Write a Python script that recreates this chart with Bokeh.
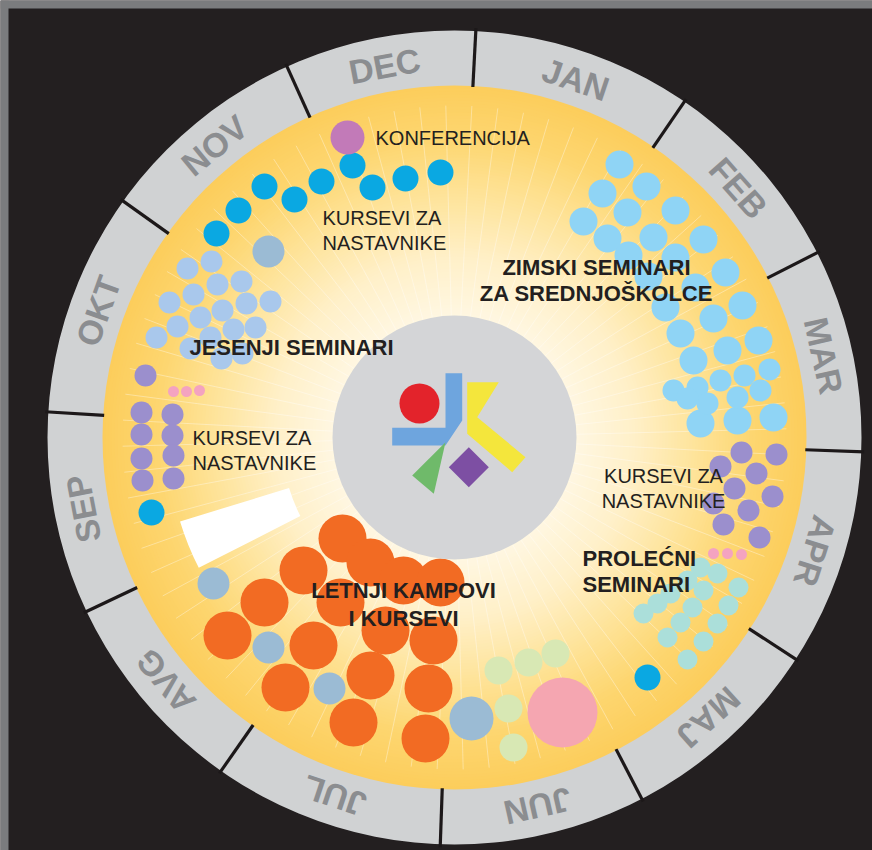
import numpy as np
from bokeh.plotting import figure
from bokeh.models import Range1d
from bokeh.embed import file_html
from bokeh.resources import INLINE
from bokeh.core.properties import value

# ---------------- data ----------------
months = ["JAN", "FEB", "MAR", "APR", "MAJ", "JUN", "JUL", "AVG", "SEP", "OKT", "NOV", "DEC"]
# start of each month on the wheel, degrees clockwise from 12 o'clock
month_start_deg = [3, 34.4, 63, 92, 123, 152.6, 182, 215, 244.7, 273.6, 305.5, 335.7]

# event dots: positions on the year-wheel (x, y relative to the wheel centre, y up)
konferencija_x = [-107]
konferencija_y = [300]

kursevi_blue_x = [-102, -82, -49, -14, -133, -160, -190, -216, -238, -303, 193]
kursevi_blue_y = [272, 250, 259, 265, 256, 238, 251, 227, 204, -75, -240]

grayblue_x = [-186, -241, -186, -125]
grayblue_y = [186, -146, -210, -251]
grayblue_big_x = [17]
grayblue_big_y = [-281]

jesenji_x = [-243, -267, -237, -213, -261, -285, -232, -208, -184, -254, -277, -221, -199, -298, -244, -264, -233, -212]
jesenji_y = [176, 169, 153, 156, 143, 135, 127, 134, 136, 120, 111, 108, 110, 100, 100, 89, 79, 84]

zimski_x = [165, 192, 148, 173, 221, 129, 153, 199, 249, 174, 221, 271, 194, 241, 211, 288, 259, 226, 304, 273, 239, 319, 283, 246]
zimski_y = [273, 251, 244, 225, 227, 216, 199, 200, 198, 182, 180, 165, 161, 150, 130, 132, 119, 104, 97, 87, 77, 20, 17, 14]
zimski_small_x = [315, 290, 266, 219, 243, 306, 283, 253, 233]
zimski_small_y = [68, 62, 57, 47, 50, 47, 40, 34, 39]

purple_x = [-309, -313, -313, -313, -312, -282, -282, -281, -281,
            287, 322, 266, 302, 280, 318, 259, 294, 269, 305]
purple_y = [62, 25, 3, -21, -43, 23, 2, -18, -41,
            -15, -17, -29, -36, -51, -59, -66, -73, -87, -100]

pink_small_x = [-281, -268, -255, 259, 273, 287]
pink_small_y = [46, 46, 47, -116, -116, -117]

prolecni_x = [284, 274, 263, 249, 233, 263, 249, 238, 226, 213, 246, 233, 216, 203, 189]
prolecni_y = [-150, -168, -186, -204, -222, -136, -153, -170, -185, -200, -130, -143, -156, -166, -176]

letnji_x = [-112, -84, -151, -51, -14, -190, -114, -227, -141, -69, -21, -169, -84, -26, -101, -29]
letnji_y = [-101, -125, -133, -143, -145, -165, -165, -198, -208, -193, -203, -250, -238, -251, -285, -301]

green_x = [44, 74, 101, 54, 59]
green_y = [-233, -225, -216, -271, -310]

pink_big_x = [108]
pink_big_y = [-275]

# empty slot (white band) : radial extent and angular extent (deg)
slot_r = [173, 287]
slot_a = [197, 207]

# labels
labels_regular = ["KONFERENCIJA", "KURSEVI ZA", "NASTAVNIKE"]
labels_bold_center = ["ZIMSKI SEMINARI", "ZA SREDNJOŠKOLCE", "LETNJI KAMPOVI", "I KURSEVI", "JESENJI SEMINARI"]
labels_bold_left = ["PROLEĆNI", "SEMINARI"]

# logo shapes
logo_blue_x = [-9, 7.7, 7.7, -9, -62.3, -62.3, -9]
logo_blue_y = [64.3, 64.3, 17, -8, -8, 9.7, 9.7]
logo_yellow_x = [12.7, 44.3, 22.7, 71, 57.7, 12.7]
logo_yellow_y = [55.3, 55.3, 20.3, -19.7, -34.7, 3.7]
logo_green_x = [-9, -20.7, -42.3]
logo_green_y = [-4.7, -56.3, -38]
logo_purple_x = [14.3, 34.3, 14.3, -5.7]
logo_purple_y = [-9.7, -29.7, -49.7, -29.7]

# ---------------- figure ----------------
R_OUT, R_IN, R_CORE = 407, 352, 122
W, H = 872, 850
X0, X1, Y0, Y1 = -454, 418, -413, 437
p = figure(width=W, height=H, output_backend="svg", toolbar_location=None,
           x_range=Range1d(X0, X1), y_range=Range1d(Y0, Y1),
           x_axis_location=None, y_axis_location=None, min_border=0,
           background_fill_color="#231f20", border_fill_color="#231f20",
           outline_line_color=None)
p.grid.visible = False

# grey frame strips (top and left)
p.quad(left=[X0, X0], right=[X1, X0 + 8], bottom=[Y1 - 8, Y0], top=[Y1, Y1],
       fill_color="#7b7c7e", line_color=None)

# month ring
p.annulus(x=[0], y=[0], inner_radius=R_IN - 2, outer_radius=R_OUT,
          fill_color="#d0d2d3", line_color=None)

# yellow gradient disc
stops_r = np.array([122, 180, 240, 300, 352])
stops_c = np.array([[255, 247, 226], [255, 240, 201], [254, 228, 156], [253, 214, 112], [252, 205, 92]])
rads = np.arange(R_IN, R_CORE - 1, -3.0)
cols = []
for r in rads:
    c = [np.interp(r, stops_r, stops_c[:, k]) for k in range(3)]
    cols.append("#%02x%02x%02x" % tuple(int(round(v)) for v in c))
p.circle(x=np.zeros(len(rads)), y=np.zeros(len(rads)), radius=rads,
         fill_color=cols, line_color=None)

# sunburst rays
ray_a = np.deg2rad(np.arange(0, 360, 4.5) + 1.5)
p.segment(x0=R_CORE * np.cos(ray_a), y0=R_CORE * np.sin(ray_a),
          x1=(R_IN - 20) * np.cos(ray_a), y1=(R_IN - 20) * np.sin(ray_a),
          line_color="white", line_alpha=0.35, line_width=1.0)

# separators and month labels
starts = np.array(month_start_deg)
ends = np.append(starts[1:], starts[0] + 360)
bound = np.deg2rad(starts)
p.segment(x0=(R_IN - 1) * np.sin(bound), y0=(R_IN - 1) * np.cos(bound),
          x1=(R_OUT + 3) * np.sin(bound), y1=(R_OUT + 3) * np.cos(bound),
          line_color="#1c1819", line_width=3.2)
mid = np.deg2rad((starts + ends) / 2)
R_LAB = 378
p.text(x=R_LAB * np.sin(mid), y=R_LAB * np.cos(mid), text=months, angle=-mid,
       text_align="center", text_baseline="middle", text_font=value("Liberation Sans"),
       text_font_style="bold", text_font_size="34px", text_color="#8b8d90")

# white slot
p.annular_wedge(x=[0], y=[0], inner_radius=slot_r[0], outer_radius=slot_r[1],
                start_angle=np.deg2rad(slot_a[0]), end_angle=np.deg2rad(slot_a[1]),
                fill_color="white", line_color=None)

# dots
def dots(xs, ys, r, color, alpha=1.0):
    p.circle(x=xs, y=ys, radius=r, fill_color=color, fill_alpha=alpha, line_color=None)

dots(grayblue_x, grayblue_y, 16, "#9bbbd4")
dots(grayblue_big_x, grayblue_big_y, 22, "#9bbbd4")
dots(jesenji_x, jesenji_y, 11, "#a9c8ec")
dots(zimski_x, zimski_y, 14, "#8fd4f5")
dots(zimski_small_x, zimski_small_y, 11, "#8fd4f5")
dots(purple_x, purple_y, 11, "#9b8fcd")
dots(pink_small_x, pink_small_y, 5.5, "#f4a3c0")
dots(prolecni_x, prolecni_y, 10, "#abdfda")
dots(letnji_x, letnji_y, 24, "#f26b23")
dots(green_x, green_y, 14, "#d8e8b4")
dots(pink_big_x, pink_big_y, 35, "#f5a6b1")
dots(kursevi_blue_x, kursevi_blue_y, 13, "#0aa8e2")
dots(konferencija_x, konferencija_y, 17, "#c27ab8")

# centre disc and logo
p.circle(x=[0], y=[0], radius=R_CORE, fill_color="#d4d5d7", line_color=None)
p.patch(logo_blue_x, logo_blue_y, fill_color="#6ea5de", line_color=None)
p.patch(logo_yellow_x, logo_yellow_y, fill_color="#f4e63c", line_color=None)
p.patch(logo_green_x, logo_green_y, fill_color="#6fba6a", line_color=None)
p.patch(logo_purple_x, logo_purple_y, fill_color="#7d4fa3", line_color=None)
p.circle(x=[-35], y=[34], radius=20, fill_color="#e3232b", line_color=None)

# texts
F = value("Liberation Sans")
TXT = "#231f20"
# regular
p.text(x=[-79], y=[300], text=[labels_regular[0]], text_align="left", text_baseline="middle",
       text_font=F, text_font_size="20px", text_color=TXT)
p.text(x=[-132, -132], y=[220, 195], text=labels_regular[1:], text_align="left", text_baseline="middle",
       text_font=F, text_font_size="20px", text_color=TXT)
p.text(x=[-262, -262], y=[0, -25], text=labels_regular[1:], text_align="left", text_baseline="middle",
       text_font=F, text_font_size="20px", text_color=TXT)
p.text(x=[209, 209], y=[-38, -63], text=labels_regular[1:], text_align="center", text_baseline="middle",
       text_font=F, text_font_size="20px", text_color=TXT)
# bold
p.text(x=[142, 142, -51, -51, -163], y=[170, 144, -153, -181, 90], text=labels_bold_center,
       text_align="center", text_baseline="middle", text_font=F, text_font_style="bold",
       text_font_size="22px", text_color=TXT)
p.text(x=[128, 128], y=[-121, -147], text=labels_bold_left,
       text_align="left", text_baseline="middle", text_font=F, text_font_style="bold",
       text_font_size="22px", text_color=TXT)

html = file_html(p, INLINE)
open("out.html", "w").write(html)
